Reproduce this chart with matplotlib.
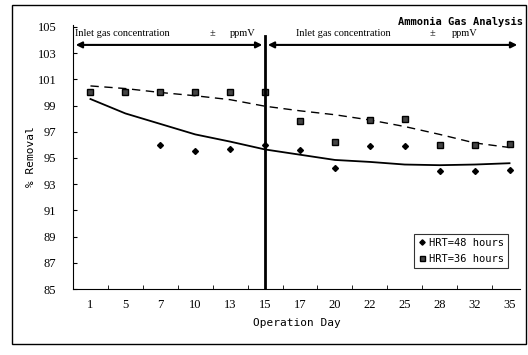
import numpy as np
import matplotlib
matplotlib.use("Agg")
import matplotlib.pyplot as plt
from matplotlib.patches import Rectangle

days = ["1", "5", "7", "10", "13", "15", "17", "20", "22", "25", "28", "32", "35"]
hrt48 = [100.0, 100.0, 96.0, 95.5, 95.7, 96.0, 95.6, 94.2, 95.9, 95.9, 94.0, 94.0, 94.1]
hrt36 = [100.0, 100.0, 100.0, 100.0, 100.0, 100.0, 97.8, 96.2, 97.9, 98.0, 96.0, 96.0, 96.1]
trend48 = [99.5, 98.4, 97.6, 96.8, 96.25, 95.65, 95.25, 94.85, 94.7, 94.5, 94.45, 94.5, 94.6]
trend36 = [100.5, 100.3, 100.0, 99.75, 99.45, 98.95, 98.6, 98.3, 97.9, 97.4, 96.8, 96.15, 95.8]
yticks = list(range(85, 106, 2))

x = np.arange(len(days))

fig = plt.figure(figsize=(5.28, 3.55), dpi=100)
ax = fig.add_axes([73/528, 1 - 289/355, 447/528, 264/355])

ax.plot(x, trend48, color="black", lw=1.3)
ax.plot(x, trend36, color="black", lw=1.0, ls=(0, (6, 4)))
ax.plot(x, hrt48, "D", color="black", ms=3, ls="none", label="HRT=48 hours")
ax.plot(x, hrt36, "s", color="black", mfc="#444444", ms=4, ls="none", label="HRT=36 hours")

ax.set_xlim(-0.5, 12.3)
ax.set_ylim(85, 105.15)
ax.set_yticks(yticks)
ax.set_xticks(x)
ax.set_xticklabels(days)
ax.set_xticks(x[:-1] + 0.5, minor=True)
ax.tick_params(axis="x", which="major", length=0, pad=7)
ax.tick_params(axis="x", which="minor", length=3, direction="in")
ax.tick_params(axis="y", length=3, direction="in", pad=12)
for lab in ax.get_xticklabels() + ax.get_yticklabels():
    lab.set_fontfamily("Liberation Serif")
    lab.set_fontsize(9)

for s in ["top", "right"]:
    ax.spines[s].set_visible(False)

ax.set_xlabel("Operation Day", family="DejaVu Sans Mono", fontsize=8, labelpad=5)
ax.set_ylabel("% Removal", family="DejaVu Sans Mono", fontsize=8, labelpad=1)

# division line and inlet concentration arrows
ax.plot([5, 5], [85, 104.3], color="black", lw=2)
ax.annotate("", xy=(-0.5, 103.63), xytext=(5, 103.63),
            arrowprops=dict(arrowstyle="<|-|>", color="black", lw=1.5, mutation_scale=9))
ax.annotate("", xy=(5, 103.63), xytext=(12.3, 103.63),
            arrowprops=dict(arrowstyle="<|-|>", color="black", lw=1.5, mutation_scale=9))
for x0, xpm, xu in [(-0.45, 3.4, 4.0), (5.9, 9.7, 10.35)]:
    ax.text(x0, 104.5, "Inlet gas concentration", family="Liberation Serif", fontsize=7.5, va="center")
    ax.text(xpm, 104.5, "±", family="Liberation Serif", fontsize=7.5, va="center")
    ax.text(xu, 104.5, "ppmV", family="Liberation Serif", fontsize=7.5, va="center")

fig.text(523/528, 1 - 22/355, "Ammonia Gas Analysis", family="DejaVu Sans Mono",
         fontsize=7.5, fontweight="bold", ha="right", va="center")

leg = ax.legend(loc="lower right", bbox_to_anchor=(0.985, 0.06), prop={"family": "DejaVu Sans Mono", "size": 7.5},
                frameon=True, fancybox=False, edgecolor="black", handlelength=0.6,
                handletextpad=0.4, borderpad=0.4, labelspacing=0.55, markerscale=0.9)
leg.get_frame().set_linewidth(0.8)

fig.patches.append(Rectangle((12/528, 1 - 344/355), 514/528, 339/355, transform=fig.transFigure,
                             fill=False, edgecolor="black", lw=1))

fig.savefig("out.png", dpi=100)
